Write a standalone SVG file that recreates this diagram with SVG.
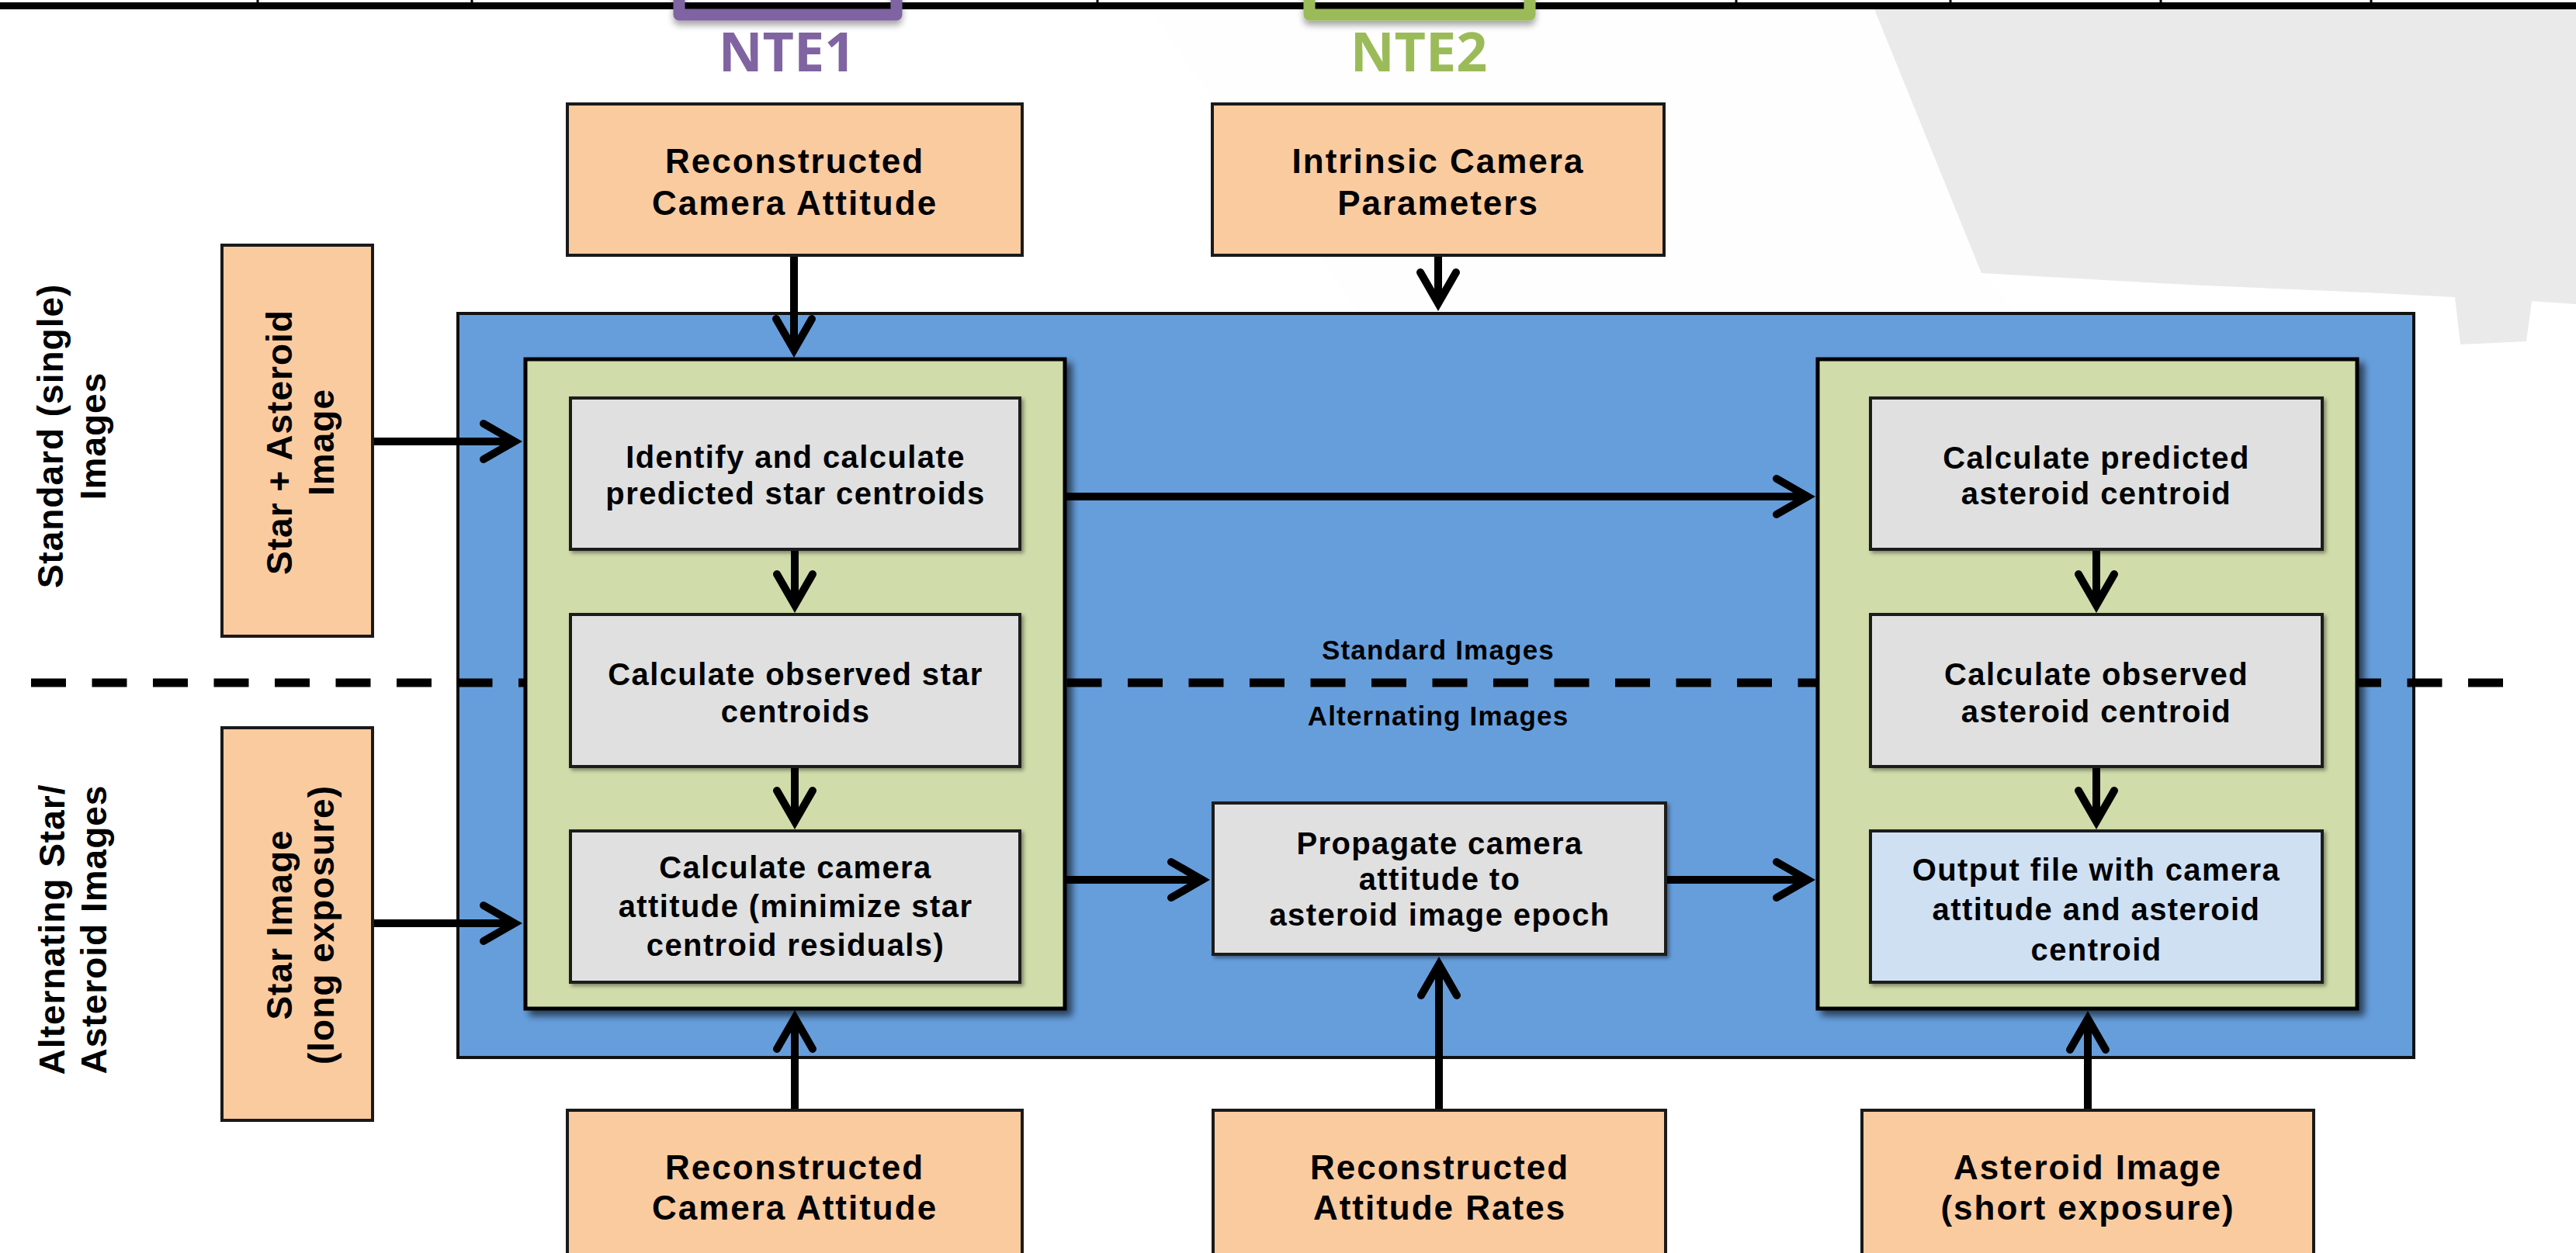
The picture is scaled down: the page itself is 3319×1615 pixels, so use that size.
<svg xmlns="http://www.w3.org/2000/svg" width="3319" height="1615" viewBox="0 0 3319 1615">
<defs>
<style>
.t{font-family:"Liberation Sans",Arial,sans-serif;font-weight:bold;fill:#000;text-anchor:middle}
.o{font-size:44px;letter-spacing:2px}
.g{font-size:40px;letter-spacing:1.4px}
.r{font-size:46px;letter-spacing:1px}
.lab{font-size:35px;letter-spacing:1.2px}
.nte{font-family:"Open Sans","DejaVu Sans",sans-serif;font-weight:bold;font-size:70px;text-anchor:middle}
.orange{fill:#FBCBA0;stroke:#1a1a1a;stroke-width:4}
.gray{fill:#E0E0E0;stroke:#1a1a1a;stroke-width:4}
.green{fill:#D0DCAA;stroke:#000;stroke-width:5}
.conn{fill:none;stroke:#000;stroke-width:10}
</style>
<filter id="sh" x="-5%" y="-5%" width="115%" height="115%"><feDropShadow dx="3" dy="3" stdDeviation="2.5" flood-color="#000" flood-opacity="0.4"/></filter>
<filter id="shg" x="-5%" y="-5%" width="115%" height="115%"><feDropShadow dx="7" dy="7" stdDeviation="5" flood-color="#000" flood-opacity="0.6"/></filter>
<filter id="shb" x="-10%" y="-50%" width="120%" height="300%"><feDropShadow dx="0" dy="6" stdDeviation="4" flood-color="#000" flood-opacity="0.35"/></filter>
<marker id="arr" markerUnits="userSpaceOnUse" viewBox="-60 -40 80 80" markerWidth="80" markerHeight="80" refX="0" refY="0" orient="auto" overflow="visible">
<path d="M-40,-23 L0,0 L-40,23" fill="none" stroke="#000" stroke-width="10" stroke-linecap="round" stroke-linejoin="miter"/>
</marker>
</defs>
<rect x="0" y="0" width="3319" height="1615" fill="#fff"/>
<g id="background">
<polygon points="1482,12 2415,12 2553,352 2600,404 1750,404" fill="#FEFEFE"/>
<polygon points="2415,12 3319,12 3319,392 3262,388 3255,440 3170,444 3163,383 3047,377 2820,367 2553,352" fill="#EAEAEA"/>
</g>
<g id="topbar">
<rect x="0" y="3" width="3319" height="9" fill="#000"/>
<path d="M332,0V3M608,0V3M1414,0V3M2237,0V3M2513,0V3M2784,0V3M3055,0V3" stroke="#000" stroke-width="3"/>
</g>
<g id="nte1">
<path d="M875,-10 V19 H1155 V-10" fill="none" stroke="#8064A2" stroke-width="15" stroke-linejoin="round" filter="url(#shb)"/>
<text class="nte" x="1014" y="92" fill="#8064A2">NTE1</text>
</g>
<g id="nte2">
<path d="M1687,-10 V19 H1971 V-10" fill="none" stroke="#9BBB59" stroke-width="15" stroke-linejoin="round" filter="url(#shb)"/>
<text class="nte" x="1828" y="92" fill="#9BBB59">NTE2</text>
</g>
<g id="label-standard" transform="translate(0,562) rotate(-90)">
<text class="t r" x="0" y="81">Standard (single)</text>
<text class="t r" x="0" y="136">Images</text>
</g>
<g id="label-alternating" transform="translate(0,1198) rotate(-90)">
<text class="t r" x="0" y="83">Alternating Star/</text>
<text class="t r" x="0" y="137">Asteroid Images</text>
</g>
<g id="blue-box">
<rect x="590" y="404" width="2520" height="959" fill="#669EDC" stroke="#111" stroke-width="4"/>
</g>
<g id="separator">
<line x1="40" y1="880" x2="3226" y2="880" stroke="#000" stroke-width="11" stroke-dasharray="45 33.5"/>
<text class="t lab" x="1853" y="850">Standard Images</text>
<text class="t lab" x="1853" y="935">Alternating Images</text>
</g>
<g id="green-left">
<rect class="green" x="677" y="463" width="695" height="837" filter="url(#shg)"/>
</g>
<g id="green-right">
<rect class="green" x="2342" y="463" width="695" height="837" filter="url(#shg)"/>
</g>
<g id="identify">
<rect class="gray" x="735" y="513" width="579" height="195" filter="url(#sh)"/>
<text class="t g" x="1025" y="603">Identify and calculate</text>
<text class="t g" x="1025" y="650">predicted star centroids</text>
</g>
<g id="observed-star">
<rect class="gray" x="735" y="792" width="579" height="196" filter="url(#sh)"/>
<text class="t g" x="1025" y="883">Calculate observed star</text>
<text class="t g" x="1025" y="931">centroids</text>
</g>
<g id="camera-attitude">
<rect class="gray" x="735" y="1071" width="579" height="195" filter="url(#sh)"/>
<text class="t g" x="1025" y="1132">Calculate camera</text>
<text class="t g" x="1025" y="1182">attitude (minimize star</text>
<text class="t g" x="1025" y="1232">centroid residuals)</text>
</g>
<g id="predicted-asteroid">
<rect class="gray" x="2410" y="513" width="582" height="195" filter="url(#sh)"/>
<text class="t g" x="2701" y="604">Calculate predicted</text>
<text class="t g" x="2701" y="650">asteroid centroid</text>
</g>
<g id="observed-asteroid">
<rect class="gray" x="2410" y="792" width="582" height="196" filter="url(#sh)"/>
<text class="t g" x="2701" y="883">Calculate observed</text>
<text class="t g" x="2701" y="931">asteroid centroid</text>
</g>
<g id="output-file">
<rect x="2410" y="1071" width="582" height="195" fill="#D0E0F3" stroke="#1a1a1a" stroke-width="4" filter="url(#sh)"/>
<text class="t g" x="2701" y="1135">Output file with camera</text>
<text class="t g" x="2701" y="1186">attitude and asteroid</text>
<text class="t g" x="2701" y="1238">centroid</text>
</g>
<g id="propagate">
<rect class="gray" x="1563" y="1035" width="583" height="195" filter="url(#sh)"/>
<text class="t g" x="1855" y="1101">Propagate camera</text>
<text class="t g" x="1855" y="1147">attitude to</text>
<text class="t g" x="1855" y="1193">asteroid image epoch</text>
</g>
<g id="connectors">
<path class="conn" d="M1023,331 V451" marker-end="url(#arr)"/>
<path class="conn" d="M1853,331 V391" marker-end="url(#arr)"/>
<path class="conn" d="M482,569 H663" marker-end="url(#arr)"/>
<path class="conn" d="M482,1190 H663" marker-end="url(#arr)"/>
<path class="conn" d="M1024,710 V780" marker-end="url(#arr)"/>
<path class="conn" d="M1024,990 V1059" marker-end="url(#arr)"/>
<path class="conn" d="M1374,640 H2329" marker-end="url(#arr)"/>
<path class="conn" d="M1374,1134 H1549" marker-end="url(#arr)"/>
<path class="conn" d="M2148,1134 H2329" marker-end="url(#arr)"/>
<path class="conn" d="M2701,710 V780" marker-end="url(#arr)"/>
<path class="conn" d="M2701,990 V1059" marker-end="url(#arr)"/>
<path class="conn" d="M1024,1429 V1312" marker-end="url(#arr)"/>
<path class="conn" d="M1854,1429 V1243" marker-end="url(#arr)"/>
<path class="conn" d="M2690,1429 V1313" marker-end="url(#arr)"/>
</g>
<g id="recon-attitude-top">
<rect class="orange" x="731" y="134" width="586" height="195"/>
<text class="t o" x="1024" y="223">Reconstructed</text>
<text class="t o" x="1024" y="277">Camera Attitude</text>
</g>
<g id="intrinsic">
<rect class="orange" x="1562" y="134" width="582" height="195"/>
<text class="t o" x="1853" y="223">Intrinsic Camera</text>
<text class="t o" x="1853" y="277">Parameters</text>
</g>
<g id="star-asteroid-image">
<rect class="orange" x="286" y="316" width="194" height="504"/>
<g transform="translate(0,570) rotate(-90)">
<text class="t r" x="0" y="376">Star + Asteroid</text>
<text class="t r" x="0" y="430">Image</text>
</g>
</g>
<g id="star-image">
<rect class="orange" x="286" y="938" width="194" height="506"/>
<g transform="translate(0,1192) rotate(-90)">
<text class="t r" x="0" y="376">Star Image</text>
<text class="t r" x="0" y="430">(long exposure)</text>
</g>
</g>
<g id="recon-attitude-bottom">
<rect class="orange" x="731" y="1431" width="586" height="210"/>
<text class="t o" x="1024" y="1520">Reconstructed</text>
<text class="t o" x="1024" y="1572">Camera Attitude</text>
</g>
<g id="recon-rates">
<rect class="orange" x="1563" y="1431" width="583" height="210"/>
<text class="t o" x="1855" y="1520">Reconstructed</text>
<text class="t o" x="1855" y="1572">Attitude Rates</text>
</g>
<g id="asteroid-image">
<rect class="orange" x="2399" y="1431" width="582" height="210"/>
<text class="t o" x="2690" y="1520">Asteroid Image</text>
<text class="t o" x="2690" y="1572">(short exposure)</text>
</g>
</svg>
